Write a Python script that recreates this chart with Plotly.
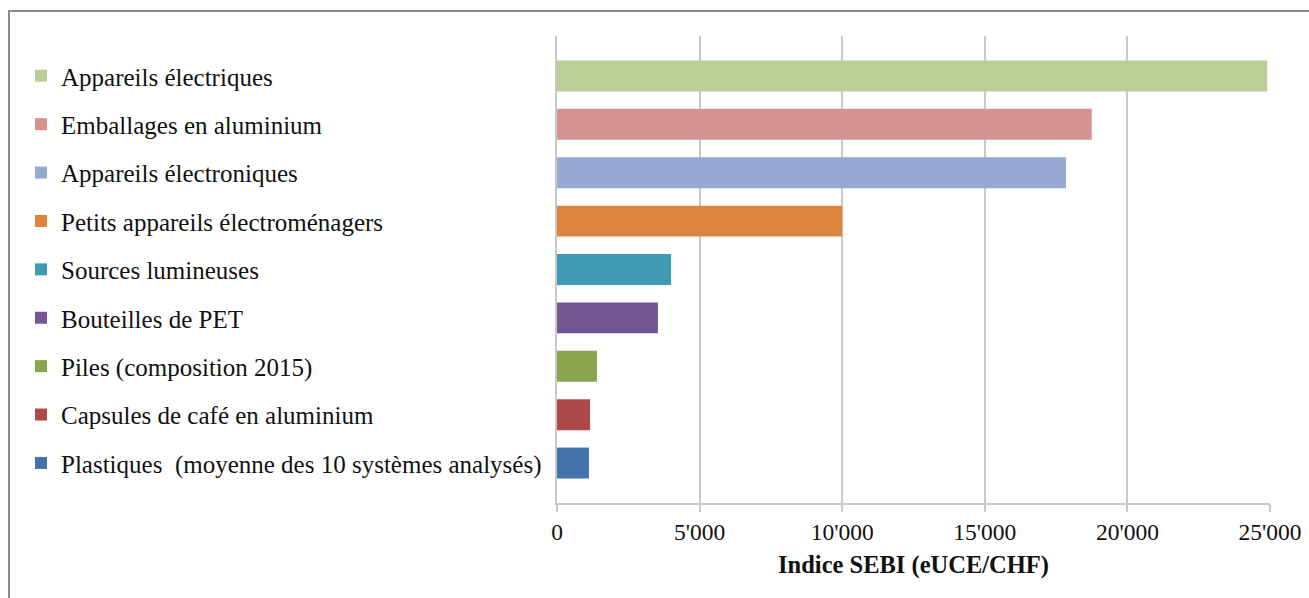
import plotly.graph_objects as go

categories = [
    "Appareils électriques",
    "Emballages en aluminium",
    "Appareils électroniques",
    "Petits appareils électroménagers",
    "Sources lumineuses",
    "Bouteilles de PET",
    "Piles (composition 2015)",
    "Capsules de café en aluminium",
    "Plastiques  (moyenne des 10 systèmes analysés)",
]
values = [24900, 18750, 17850, 10000, 4000, 3540, 1400, 1160, 1120]
colors = ["#b9cf95", "#d49291", "#95a9d3", "#dd8441", "#3f9bb1",
          "#735795", "#8aa54d", "#ad4946", "#4472aa"]

tick_vals = [0, 5000, 10000, 15000, 20000, 25000]
tick_text = ["0", "5'000", "10'000", "15'000", "20'000", "25'000"]

FONT = "Liberation Serif"

fig = go.Figure()
for cat, val, col in zip(categories, values, colors):
    fig.add_trace(go.Bar(
        x=[val], y=[cat], name=cat, orientation="h",
        marker=dict(color=col, line=dict(width=0)),
        width=0.64, legendgroup=cat, showlegend=True,
    ))

fig.update_layout(
    width=1309, height=598,
    margin=dict(l=557, r=39, t=36, b=95, autoexpand=False),
    paper_bgcolor="white", plot_bgcolor="white",
    barmode="overlay",
    font=dict(family=FONT, size=24, color="#111111"),
    legend=dict(
        xref="container", yref="container",
        x=21 / 1309, y=1 - 53 / 598, xanchor="left", yanchor="top",
        font=dict(family=FONT, size=25, color="#111111"),
        tracegroupgap=12.9, bgcolor="rgba(0,0,0,0)",
        itemclick=False, maxheight=560,
    ),
    xaxis=dict(
        range=[0, 25000], tickvals=tick_vals, ticktext=tick_text,
        showgrid=True, gridcolor="#c8c8c8", gridwidth=2,
        showline=True, linecolor="#c8c8c8", linewidth=2,
        ticks="outside", ticklen=7, tickcolor="#c8c8c8", tickwidth=2,
        tickfont=dict(family=FONT, size=23.5, color="#111111"),
        zeroline=False, automargin=False,
        title=dict(text="<b>Indice SEBI (eUCE/CHF)</b>",
                   font=dict(family=FONT, size=24.5, color="#111111"),
                   standoff=12),
    ),
    yaxis=dict(
        type="category", categoryorder="array", categoryarray=categories,
        range=[8.826, -0.826], showticklabels=False,
        showgrid=False, showline=True, linecolor="#c8c8c8", linewidth=2,
        ticks="", zeroline=False, automargin=False,
    ),
    shapes=[dict(
        type="rect", xref="paper", yref="paper",
        x0=(9 - 557) / 713, x1=(1330 - 557) / 713,
        y0=(503 - 620) / 467, y1=(503 - 11) / 467,
        line=dict(color="#8c8c8c", width=2), fillcolor="rgba(0,0,0,0)",
        layer="below",
    )],
)

fig.write_html("out.html")
